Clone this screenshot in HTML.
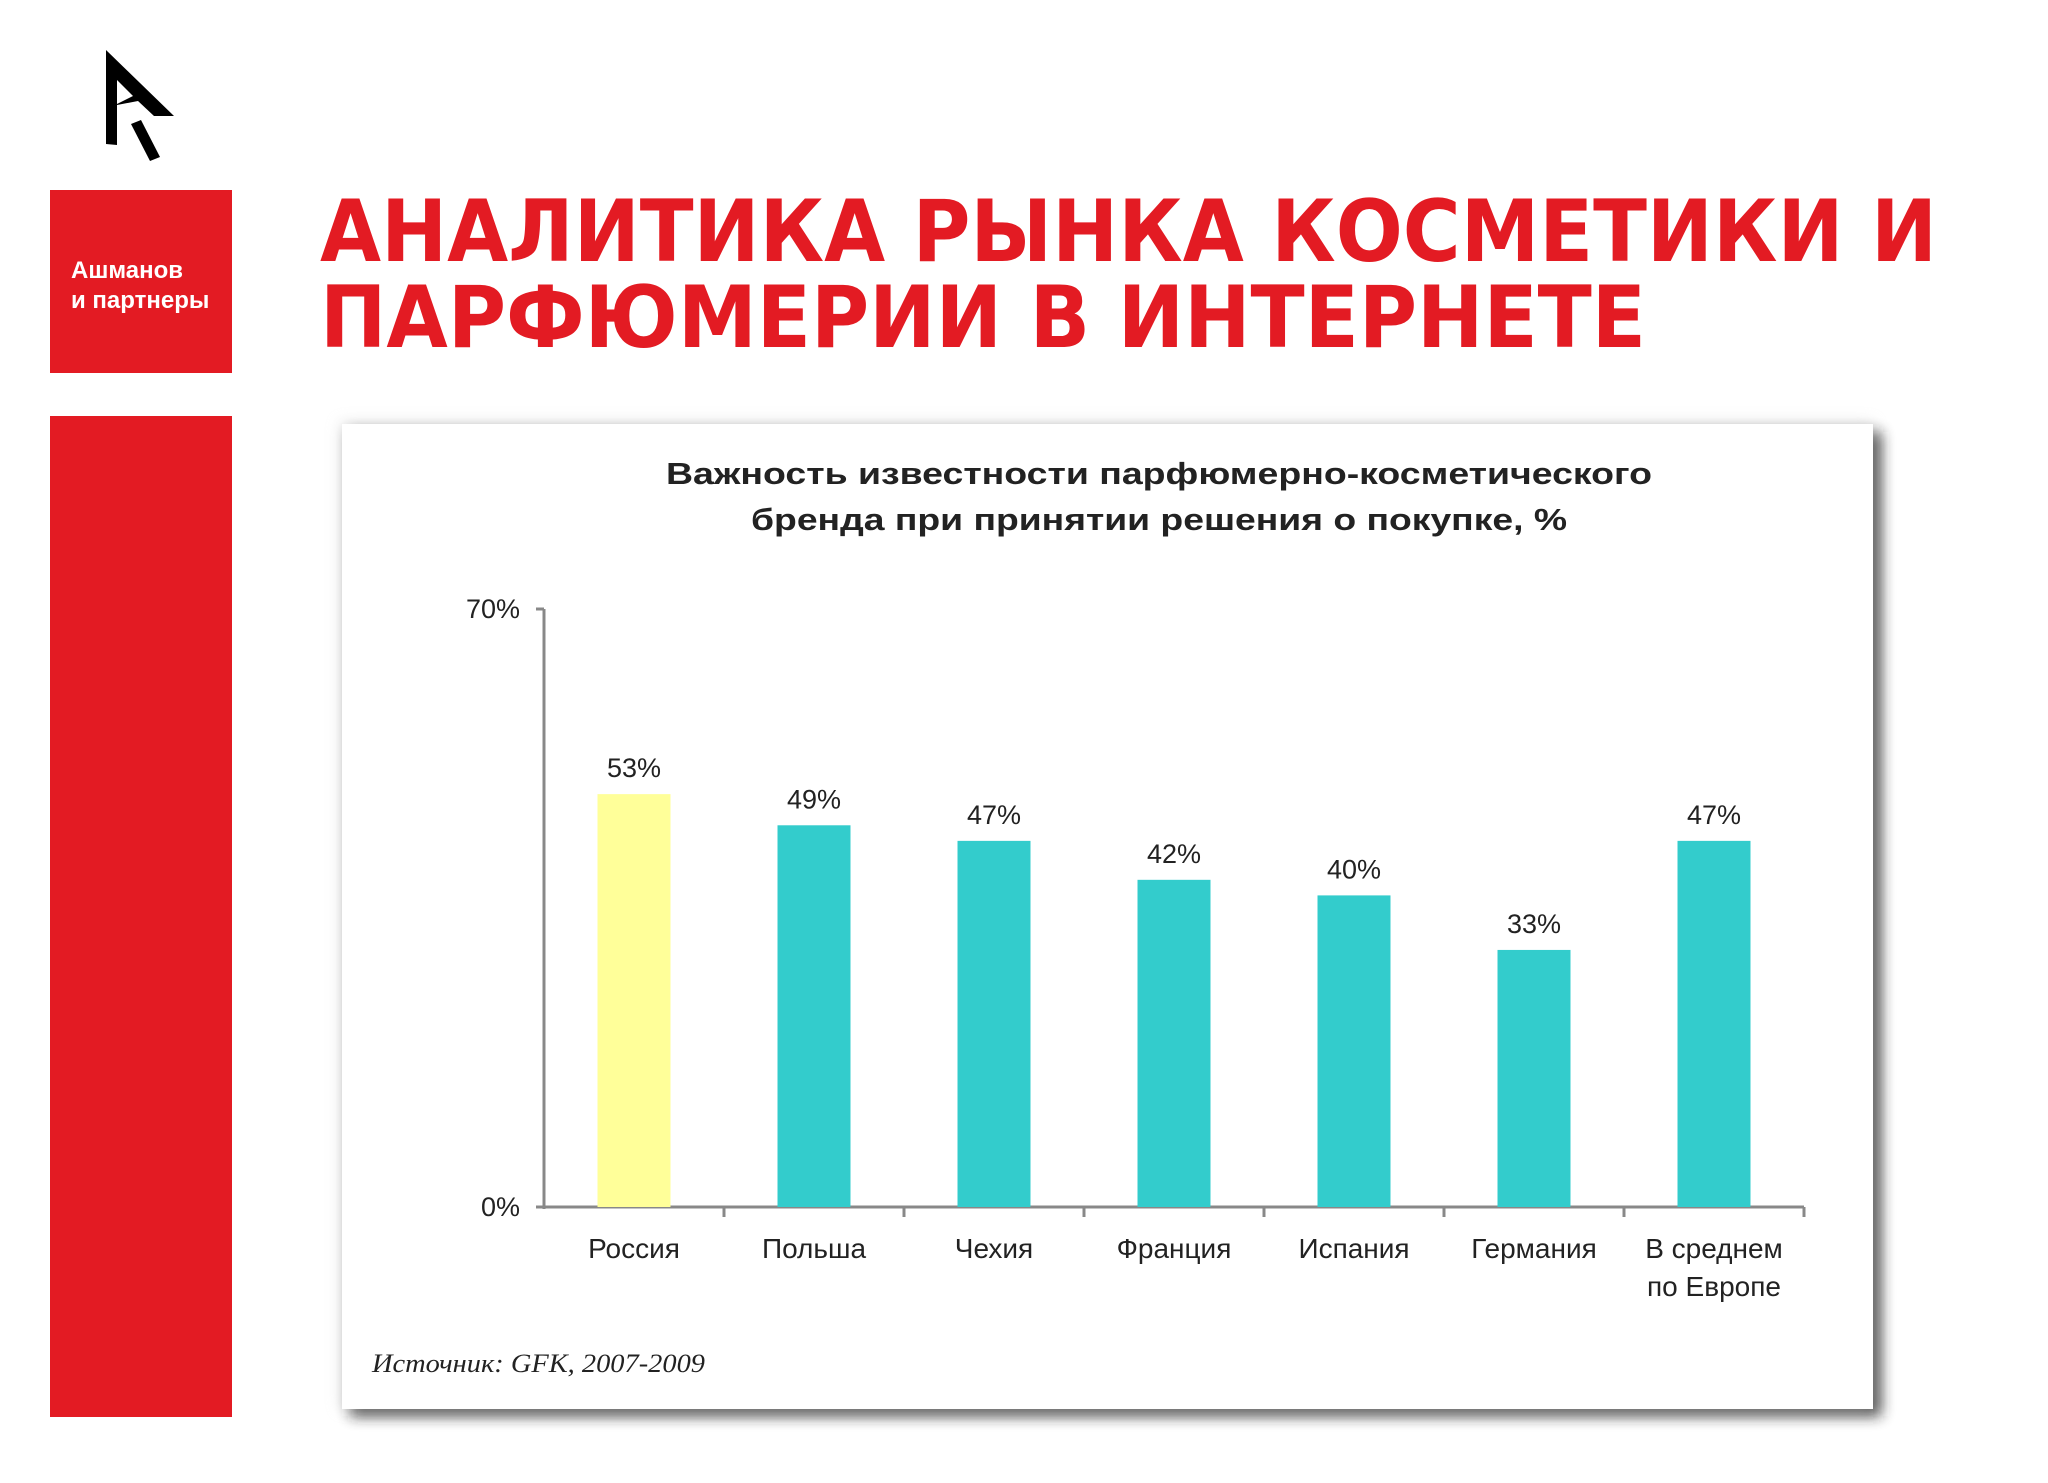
<!DOCTYPE html>
<html><head><meta charset="utf-8"><style>
html,body{margin:0;padding:0;background:#fff;width:2048px;height:1483px;overflow:hidden;position:relative;font-family:"Liberation Sans","DejaVu Sans",sans-serif}
.abs{position:absolute}
</style></head><body>
<svg class="abs" style="left:0;top:0" width="2048" height="1483">
  <g>
    <polygon points="106,50 174,116 154,116 138,101 117,105 117,145 106,144" fill="#000" transform="translate(0,0)"/>
    <polygon points="117,80 117,104 133,96" fill="#fff"/>
    <polygon points="131,124 141,120 160,157 150,161" fill="#000"/>
  </g>
  <rect x="50" y="190" width="182" height="183" fill="#e31b23"/>
  <text x="71" y="278" font-size="24" font-weight="bold" fill="#fff" font-family="Liberation Sans,sans-serif">Ашманов</text>
  <text x="71" y="308" font-size="24" font-weight="bold" fill="#fff" font-family="Liberation Sans,sans-serif">и партнеры</text>
  <rect x="50" y="416" width="182" height="1001" fill="#e31b23"/>
  <text x="320" y="261" font-size="86" font-weight="bold" fill="#e31b23" textLength="1617" lengthAdjust="spacingAndGlyphs" font-family="DejaVu Sans,sans-serif">АНАЛИТИКА РЫНКА КОСМЕТИКИ И</text>
  <text x="320" y="347" font-size="86" font-weight="bold" fill="#e31b23" textLength="1326" lengthAdjust="spacingAndGlyphs" font-family="DejaVu Sans,sans-serif">ПАРФЮМЕРИИ В ИНТЕРНЕТЕ</text>
  <defs><filter id="sh" x="-5%" y="-5%" width="115%" height="115%"><feGaussianBlur stdDeviation="7"/></filter></defs>
  <rect x="350" y="432" width="1531" height="984" fill="#222" opacity="0.85" filter="url(#sh)"/>
  <rect x="340" y="422" width="1533" height="987" fill="#ccc" opacity="0.5" filter="url(#sh)"/>
  <rect x="342" y="424" width="1531" height="985" fill="#fff"/>
  <text x="666" y="484" font-size="31" font-weight="bold" fill="#222" textLength="986" lengthAdjust="spacingAndGlyphs">Важность известности парфюмерно-косметического</text>
  <text x="751" y="530" font-size="31" font-weight="bold" fill="#222" textLength="816" lengthAdjust="spacingAndGlyphs">бренда при принятии решения о покупке, %</text>
  <g id="chart"></g>
  <text x="372" y="1372" font-size="26" font-style="italic" fill="#222" font-family="Liberation Serif,serif" textLength="333" lengthAdjust="spacingAndGlyphs">Источник: GFK, 2007-2009</text>
</svg>
<script>
const categories=[["Россия"],["Польша"],["Чехия"],["Франция"],["Испания"],["Германия"],["В среднем","по Европе"]];
const values=[53,49,47,42,40,33,47];
const valueLabels=["53%","49%","47%","42%","40%","33%","47%"];
const tickLabels=["0%","70%"];
const NS="http://www.w3.org/2000/svg";
const g=document.getElementById('chart');
const x0=544,step=180,y0=1207,yTop=609,pxPerUnit=7.79,bw=73;
const yScale=v=>y0-v*pxPerUnit;
const xCenter=i=>x0+step*(i+0.5);
function mk(t,a,txt){const e=document.createElementNS(NS,t);for(const k in a)e.setAttribute(k,a[k]);if(txt!==undefined)e.textContent=txt;g.appendChild(e);return e;}
let ax=mk('line',{x1:x0,y1:yTop,x2:x0,y2:y0+2,stroke:'#888','stroke-width':3});


let bx=mk('line',{x1:x0-8,y1:y0,x2:x0+step*categories.length,y2:y0,stroke:'#888','stroke-width':3});


[y0,yTop].forEach((yy,i)=>{
  mk('line',{x1:x0-8,y1:yy,x2:x0,y2:yy,stroke:'#888','stroke-width':3});
  const t=mk('text',{x:520,y:yy+9,'font-size':27,'text-anchor':'end',fill:'#222'},tickLabels[i]);
  
  
});
categories.forEach((c,i)=>{
  mk('line',{x1:x0+step*(i+1),y1:y0,x2:x0+step*(i+1),y2:y0+10,stroke:'#888','stroke-width':3});
  const r=mk('rect',{x:xCenter(i)-bw/2,y:yScale(values[i]),width:bw,height:y0-yScale(values[i]),fill:i===0?'#ffff99':'#33cccc'});
  
  
  const vl=mk('text',{x:xCenter(i),y:yScale(values[i])-17,'font-size':27,'text-anchor':'middle',fill:'#222'},valueLabels[i]);
  
  
  c.forEach((line,j)=>{
    const cl=mk('text',{x:xCenter(i),y:1258+j*38,'font-size':28,'text-anchor':'middle',fill:'#222'},line);
    
    
  });
});
</script>
</body></html>
